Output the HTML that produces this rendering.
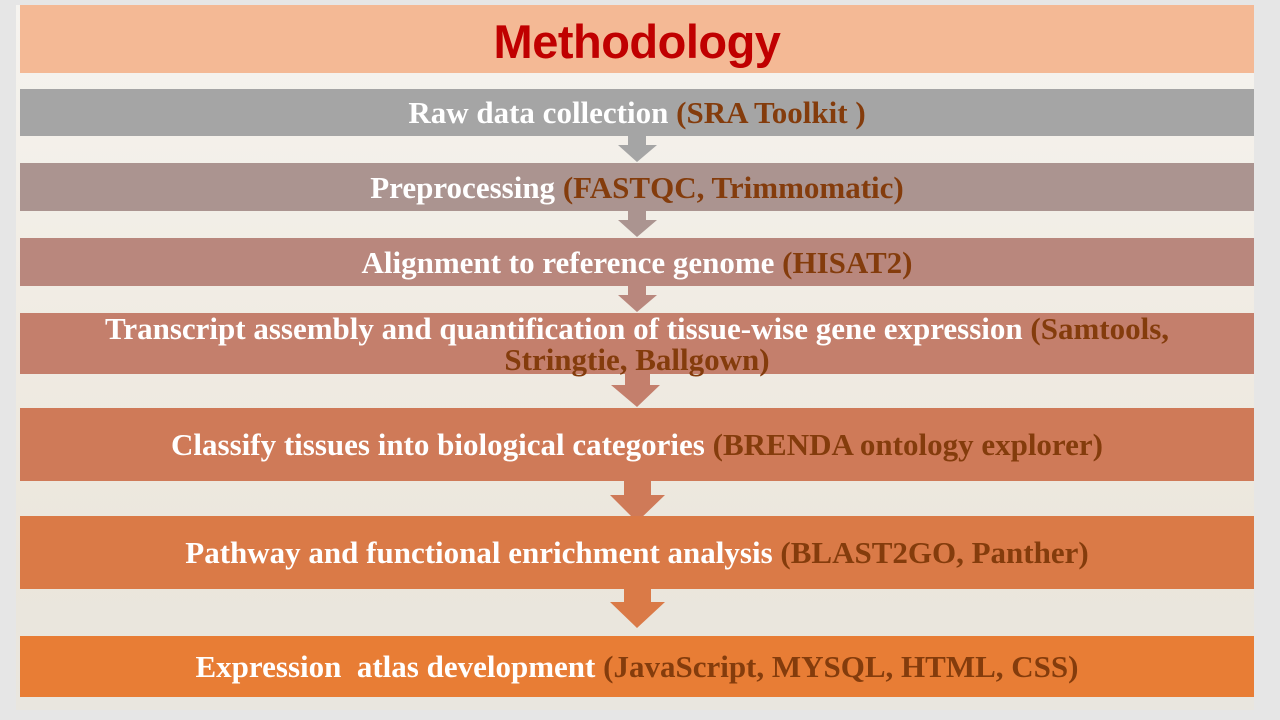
<!DOCTYPE html>
<html><head><meta charset="utf-8"><style>
body{margin:0;width:1280px;height:720px;overflow:hidden;background:#e6e6e6;position:relative;font-family:"Liberation Serif",serif}
.bg{position:absolute;left:16px;top:5px;width:1238px;height:705px;background:linear-gradient(180deg,#f6f4f0 0%,#f1ece4 40%,#ebe6dc 80%,#e9e6df 100%)}
.title{position:absolute;left:20px;top:5px;width:1234px;height:68px;background:#f4b995;text-align:center;color:#c00000;font-family:"Liberation Sans",sans-serif;font-weight:bold;font-size:47px;line-height:74px;letter-spacing:-0.5px}
.b{position:absolute;left:20px;width:1234px;color:#fff;font-weight:bold;font-size:31px;text-align:center;display:flex;align-items:center;justify-content:center;line-height:31px}
.b span{color:#843c0c}
svg{position:absolute;left:0;top:0}
</style></head><body>
<div class="bg"></div>
<div class="title">Methodology</div>
<svg width="1280" height="720">
<polygon fill="#a5a5a5" points="628,136 646,136 646,145 657,145 637,162 618,145 628,145"/>
<polygon fill="#ab9490" points="628,211 646,211 646,220 657,220 637,237 618,220 628,220"/>
<polygon fill="#b9877d" points="628,286 646,286 646,295 657,295 637,312 618,295 628,295"/>
<polygon fill="#c47f6c" points="625,374 650,374 650,385 660,385 637,407 611,385 625,385"/>
<polygon fill="#cf7a58" points="624,481 651,481 651,495 665,495 637,522 610,495 624,495"/>
<polygon fill="#da7a47" points="624,589 651,589 651,602 665,602 637,628 610,602 624,602"/>
</svg>
<div class="b" style="top:89px;height:47px;background:#a5a5a5">Raw data collection&nbsp;<span>(SRA Toolkit )</span></div>
<div class="b" style="top:163px;height:48px;background:#ab9490">Preprocessing&nbsp;<span>(FASTQC, Trimmomatic)</span></div>
<div class="b" style="top:238px;height:48px;background:#b9877d">Alignment to reference genome&nbsp;<span>(HISAT2)</span></div>
<div class="b" style="top:313px;height:61px;background:#c47f6c"><div>Transcript assembly and quantification of tissue-wise gene expression <span>(Samtools,<br>Stringtie, Ballgown)</span></div></div>
<div class="b" style="top:408px;height:73px;background:#cf7a58">Classify tissues into biological categories&nbsp;<span>(BRENDA ontology explorer)</span></div>
<div class="b" style="top:516px;height:73px;background:#da7a47">Pathway and functional enrichment analysis&nbsp;<span>(BLAST2GO, Panther)</span></div>
<div class="b" style="top:636px;height:61px;background:#e87d35">Expression&nbsp; atlas development&nbsp;<span>(JavaScript, MYSQL, HTML, CSS)</span></div>
</body></html>
